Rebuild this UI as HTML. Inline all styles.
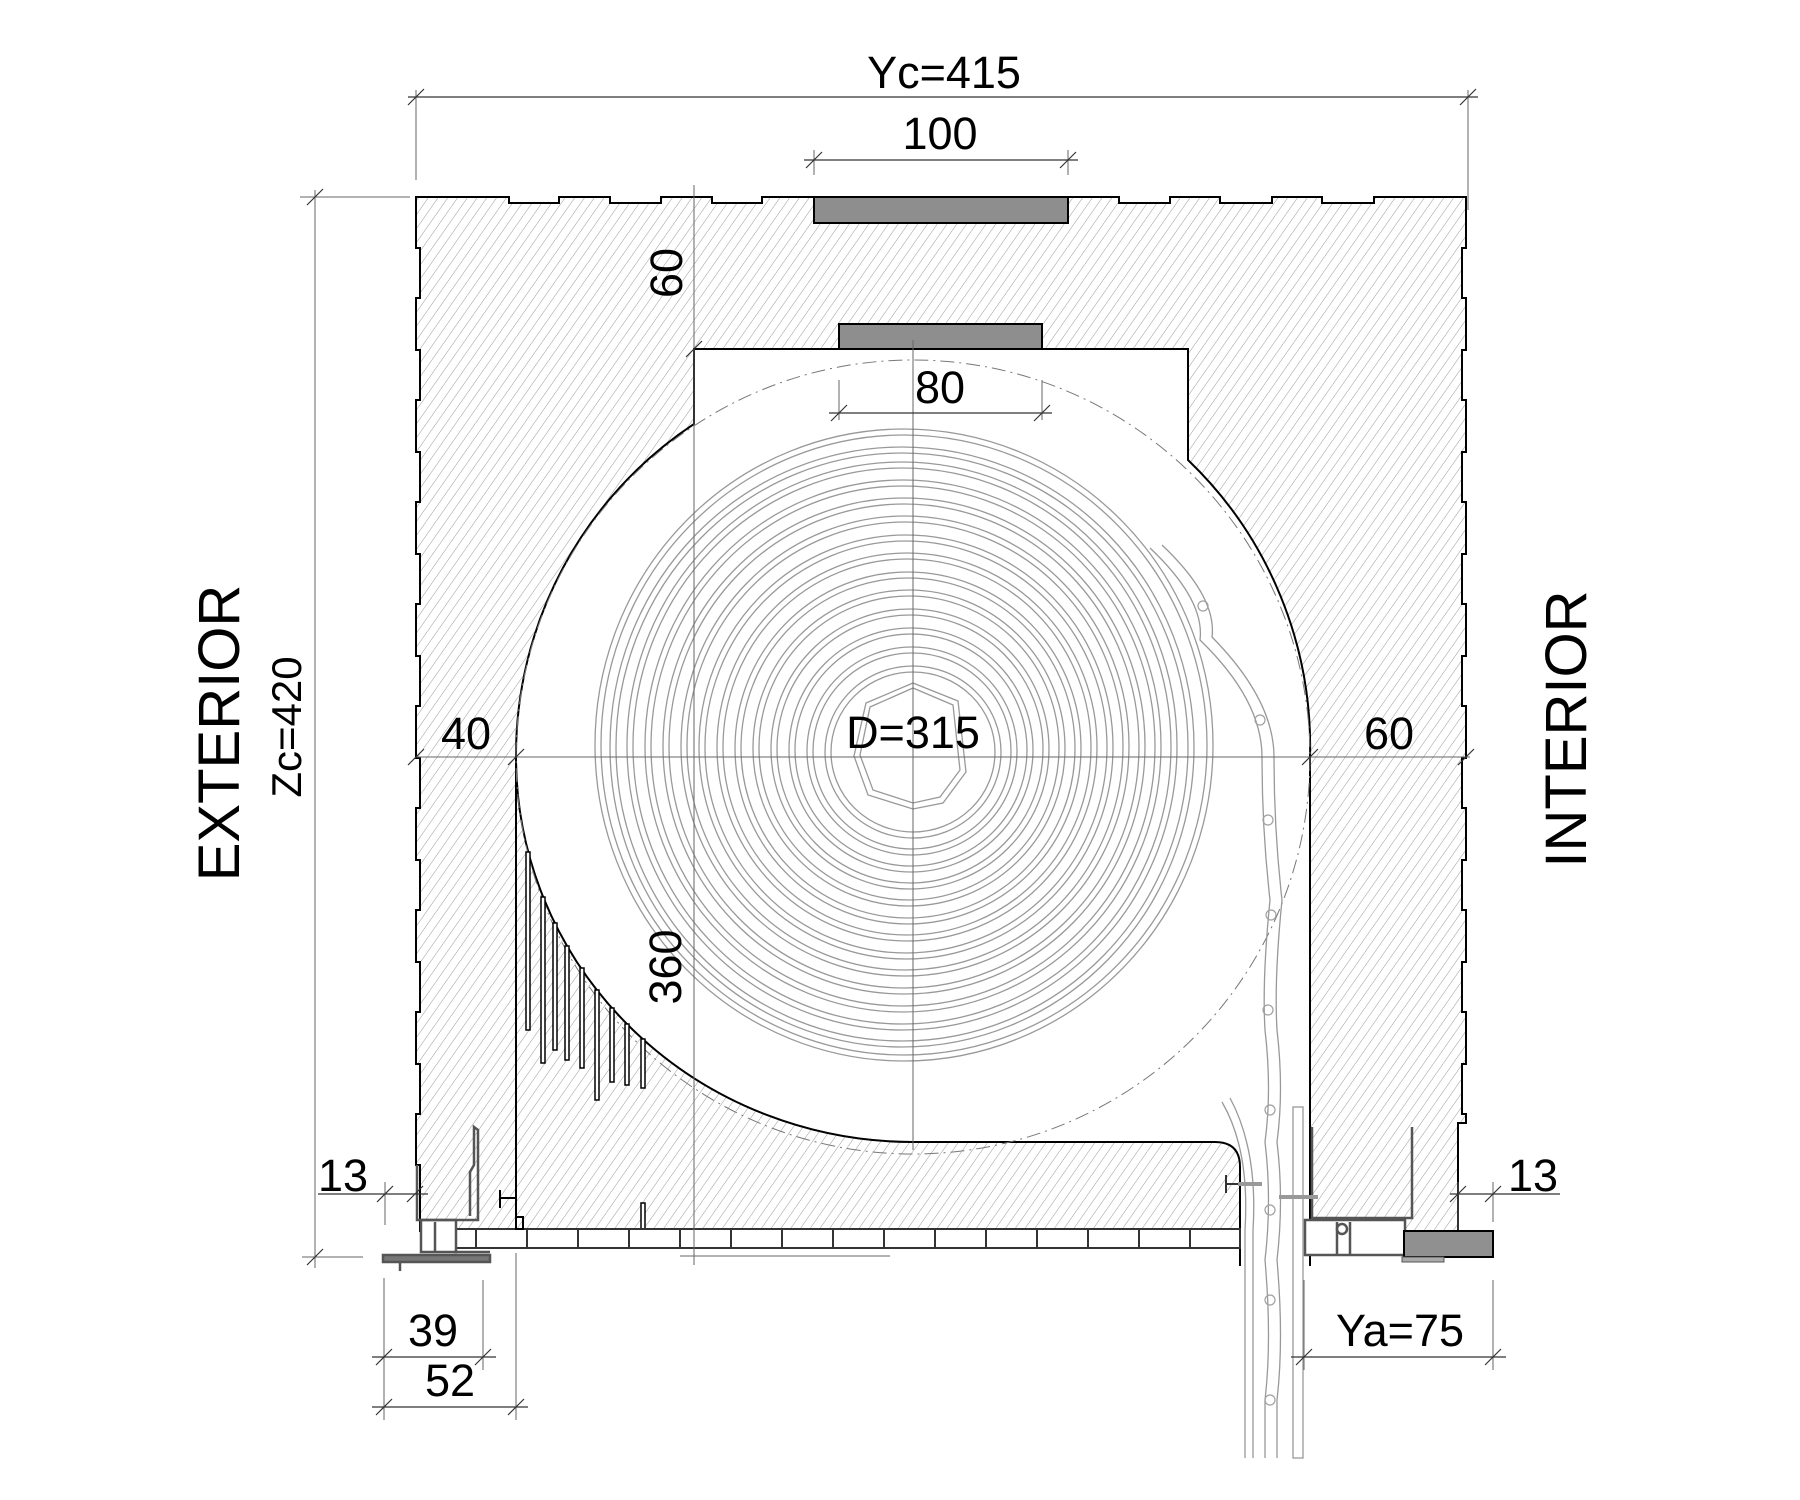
<!DOCTYPE html>
<html><head><meta charset="utf-8"><style>
html,body{margin:0;padding:0;background:#fff}
svg{display:block}
text{font-family:"Liberation Sans",Arial,sans-serif;fill:#000}
</style></head><body>
<svg width="1800" height="1500" viewBox="0 0 1800 1500" xmlns="http://www.w3.org/2000/svg">
<defs>
<pattern id="h" width="8" height="8" patternUnits="userSpaceOnUse" patternTransform="rotate(35)">
<rect width="8" height="8" fill="#fff"/>
<line x1="0" y1="0" x2="0" y2="8" stroke="#9a9a9a" stroke-width="1"/>
</pattern>
</defs>

<path d="M416,197 L509,197 L509,203 L559,203 L559,197 L610,197 L610,203 L661,203 L661,197 L712,197 L712,203 L762,203 L762,197 L1119,197 L1119,203 L1170,203 L1170,197 L1220,197 L1220,203 L1272,203 L1272,197 L1322,197 L1322,203 L1374,203 L1374,197 L1466,197
L1466,248 L1462,248 L1462,298 L1466,298 L1466,350 L1462,350 L1462,400 L1466,400 L1466,452 L1462,452 L1462,502 L1466,502 L1466,554 L1462,554 L1462,604 L1466,604 L1466,656 L1462,656 L1462,706 L1466,706 L1466,758 L1462,758 L1462,808 L1466,808 L1466,860 L1462,860 L1462,910 L1466,910 L1466,962 L1462,962 L1462,1012 L1466,1012 L1466,1064 L1462,1064 L1462,1114 L1466,1114 L1466,1123 L1458,1123 L1458,1231 L420,1231 L420,1165 L416,1165
L416,1114 L420,1114 L420,1064 L416,1064 L416,1012 L420,1012 L420,962 L416,962 L416,910 L420,910 L420,860 L416,860 L416,808 L420,808 L420,758 L416,758 L416,706 L420,706 L420,656 L416,656 L416,604 L420,604 L420,554 L416,554 L416,502 L420,502 L420,452 L416,452 L416,400 L420,400 L420,350 L416,350 L416,298 L420,298 L420,248 L416,248 Z" fill="url(#h)" stroke="#000" stroke-width="2"/>

<rect x="814" y="197" width="254" height="26" fill="#8e8e8e" stroke="#000" stroke-width="2"/>
<rect x="839" y="324" width="203" height="25" fill="#8e8e8e" stroke="#000" stroke-width="2"/>

<path d="M694,349 L1188,349 L1188,460 A397,397 0 0,1 1310,757 L1310,1265 L1240,1265 L1240,1167 Q1240,1142 1215,1142 L913,1142 A397,385 0 0,1 516,757 A397,397 0 0,1 694,424 Z" fill="#fff" stroke="#000" stroke-width="2"/>
<rect x="1241" y="1232" width="68" height="40" fill="#fff"/>
<line x1="516" y1="757" x2="516" y2="1231" stroke="#000" stroke-width="2"/>

<circle cx="913" cy="757" r="397" fill="none" stroke="#777" stroke-width="1" stroke-dasharray="14,5,2,5"/>

<g fill="#fff" stroke="#000" stroke-width="1.5">
<rect x="526" y="852" width="4" height="178"/>
<rect x="541" y="897" width="4" height="166"/>
<rect x="553" y="923" width="4" height="127"/>
<rect x="565" y="946" width="4" height="114"/>
<rect x="580" y="968" width="4" height="100"/>
<rect x="595" y="990" width="4" height="110"/>
<rect x="610" y="1008" width="4" height="74"/>
<rect x="625" y="1024" width="4" height="61"/>
<rect x="641" y="1039" width="4" height="49"/>
<rect x="641" y="1203" width="4" height="26"/>
</g>

<g fill="none" stroke="#999" stroke-width="1.3">
<ellipse cx="913" cy="752" rx="82" ry="80"/><ellipse cx="913" cy="752" rx="88" ry="86"/>
<ellipse cx="912" cy="751" rx="99" ry="98"/><ellipse cx="912" cy="751" rx="105" ry="104"/>
<ellipse cx="911" cy="750" rx="116" ry="116"/><ellipse cx="911" cy="750" rx="122" ry="122"/>
<ellipse cx="910" cy="749" rx="133" ry="134"/><ellipse cx="910" cy="749" rx="139" ry="140"/>
<ellipse cx="909" cy="748" rx="150" ry="152"/><ellipse cx="909" cy="748" rx="156" ry="158"/>
<ellipse cx="908" cy="748" rx="167" ry="170"/><ellipse cx="908" cy="748" rx="173" ry="176"/>
<ellipse cx="907" cy="747" rx="184" ry="188"/><ellipse cx="907" cy="747" rx="190" ry="194"/>
<ellipse cx="906" cy="747" rx="201" ry="206"/><ellipse cx="906" cy="747" rx="207" ry="212"/>
<ellipse cx="905" cy="746" rx="218" ry="224"/><ellipse cx="905" cy="746" rx="224" ry="230"/>
<ellipse cx="904" cy="746" rx="235" ry="242"/><ellipse cx="904" cy="746" rx="241" ry="248"/>
<ellipse cx="903" cy="746" rx="252" ry="260"/><ellipse cx="903" cy="746" rx="258" ry="266"/>
<ellipse cx="902" cy="746" rx="269" ry="278"/><ellipse cx="902" cy="746" rx="275" ry="284"/>
<ellipse cx="902" cy="747" rx="286" ry="294"/><ellipse cx="902" cy="747" rx="292" ry="300"/>
<ellipse cx="904" cy="745" rx="303" ry="310"/><ellipse cx="904" cy="745" rx="309" ry="316"/>
<polygon points="913,688 953,705 960,770 940,797 913,803 873,790 860,755 870,707"/>
<polyline points="913,683 958,701 966,772 943,803 913,809 868,795 854,756 866,703 913,683"/>
<path d="M1150,548 Q1205,600 1200,640 Q1262,700 1262,757 Q1262,830 1270,900 Q1262,980 1265,1030 Q1272,1090 1265,1142 Q1272,1200 1265,1260 Q1272,1340 1265,1400 L1265,1458"/>
<path d="M1162,545 Q1217,597 1212,637 Q1274,700 1274,757 Q1274,830 1282,900 Q1274,980 1277,1030 Q1284,1090 1277,1142 Q1284,1200 1277,1260 Q1284,1340 1277,1400 L1277,1458"/>
<path d="M1222,1102 Q1250,1150 1245,1230 L1245,1458"/>
<path d="M1230,1098 Q1258,1150 1253,1230 L1253,1458"/>
<rect x="1293" y="1107" width="10" height="351"/>
</g>
<g fill="none" stroke="#a0a0a0" stroke-width="1.2">
<circle cx="1203" cy="606" r="5"/><circle cx="1260" cy="720" r="5"/><circle cx="1268" cy="820" r="5"/><circle cx="1271" cy="915" r="5"/><circle cx="1268" cy="1010" r="5"/><circle cx="1270" cy="1110" r="5"/><circle cx="1270" cy="1210" r="5"/><circle cx="1270" cy="1300" r="5"/><circle cx="1270" cy="1400" r="5"/>
</g>

<g fill="#fff" stroke="#333" stroke-width="2">
<rect x="456" y="1229" width="784" height="19"/>
</g>
<g stroke="#333" stroke-width="2">
<line x1="476" y1="1229" x2="476" y2="1248"/><line x1="527" y1="1229" x2="527" y2="1248"/><line x1="578" y1="1229" x2="578" y2="1248"/><line x1="629" y1="1229" x2="629" y2="1248"/><line x1="680" y1="1229" x2="680" y2="1248"/><line x1="731" y1="1229" x2="731" y2="1248"/><line x1="782" y1="1229" x2="782" y2="1248"/><line x1="833" y1="1229" x2="833" y2="1248"/><line x1="884" y1="1229" x2="884" y2="1248"/><line x1="935" y1="1229" x2="935" y2="1248"/><line x1="986" y1="1229" x2="986" y2="1248"/><line x1="1037" y1="1229" x2="1037" y2="1248"/><line x1="1088" y1="1229" x2="1088" y2="1248"/><line x1="1139" y1="1229" x2="1139" y2="1248"/><line x1="1190" y1="1229" x2="1190" y2="1248"/>
</g>

<g fill="#fff" stroke="#555" stroke-width="2.5">
<rect x="421" y="1220" width="35" height="32"/>
<polyline points="417,1165 417,1220 478,1220 478,1130 474,1127 474,1165 470,1172 470,1216" fill="none"/>
<path d="M383,1255 L490,1255 L490,1262 L383,1262 Z" fill="#777"/>
<line x1="400" y1="1262" x2="400" y2="1271"/>
<line x1="435" y1="1222" x2="435" y2="1252"/>
<line x1="454" y1="1252" x2="490" y2="1252"/>
</g>
<g stroke="#000" stroke-width="2" fill="none">
<path d="M500,1190 L500,1208 M500,1198 L516,1198"/>
<rect x="516" y="1217" width="7" height="12"/>
</g>

<g fill="#fff" stroke="#555" stroke-width="2.5">
<rect x="1305" y="1220" width="100" height="35"/>
<polyline points="1312,1127 1312,1218 1412,1218 1412,1127" fill="none"/>
<line x1="1337" y1="1222" x2="1337" y2="1255"/>
<line x1="1350" y1="1222" x2="1350" y2="1255"/>
<circle cx="1342" cy="1229" r="5"/>
</g>
<rect x="1404" y="1231" width="89" height="26" fill="#909090" stroke="#000" stroke-width="2"/>
<rect x="1402" y="1257" width="42" height="5" fill="#aaa" stroke="#555" stroke-width="1"/>
<g stroke="#999" stroke-width="4">
<line x1="1238" y1="1184" x2="1262" y2="1184"/><line x1="1279" y1="1197" x2="1318" y2="1197"/>
</g>
<g stroke="#333" stroke-width="2" fill="none"><path d="M1226,1175 L1226,1193 M1226,1184 L1238,1184"/></g>

<g stroke="#666" stroke-width="1" fill="none">
<line x1="694" y1="185" x2="694" y2="1265"/>
<line x1="913" y1="340" x2="913" y2="1150"/>
<line x1="680" y1="1256" x2="890" y2="1256"/>
<line x1="416" y1="757" x2="1470" y2="757"/>
<line x1="416" y1="90" x2="416" y2="180"/><line x1="1468" y1="90" x2="1468" y2="210"/>
<line x1="814" y1="150" x2="814" y2="175"/><line x1="1068" y1="150" x2="1068" y2="175"/>
<line x1="839" y1="380" x2="839" y2="420"/><line x1="1042" y1="380" x2="1042" y2="420"/>
<line x1="315" y1="190" x2="315" y2="1268"/>
<line x1="300" y1="197" x2="410" y2="197"/>
<line x1="302" y1="1257" x2="363" y2="1257"/>
<line x1="384" y1="1278" x2="384" y2="1420"/><line x1="483" y1="1280" x2="483" y2="1370"/><line x1="516" y1="1253" x2="516" y2="1420"/>
<line x1="1304" y1="1280" x2="1304" y2="1370"/><line x1="1493" y1="1280" x2="1493" y2="1370"/>
<line x1="1458" y1="1182" x2="1458" y2="1230"/><line x1="1493" y1="1182" x2="1493" y2="1222"/>
<line x1="385" y1="1182" x2="385" y2="1225"/>
</g>
<g stroke="#333" stroke-width="1.2" fill="none">
<line x1="408" y1="97" x2="1478" y2="97"/>
<line x1="804" y1="160" x2="1078" y2="160"/>
<line x1="829" y1="413" x2="1052" y2="413"/>
<line x1="318" y1="1194" x2="428" y2="1194"/>
<line x1="1450" y1="1194" x2="1560" y2="1194"/>
<line x1="372" y1="1357" x2="496" y2="1357"/>
<line x1="372" y1="1407" x2="528" y2="1407"/>
<line x1="1291" y1="1357" x2="1506" y2="1357"/>
<path d="M408,105 L424,89 M1460,105 L1476,89 M806,168 L822,152 M1060,168 L1076,152 M831,421 L847,405 M1034,421 L1050,405 M408,765 L424,749 M508,765 L524,749 M1302,765 L1318,749 M1458,765 L1474,749 M307,205 L323,189 M307,1265 L323,1249 M686,357 L702,341 M377,1202 L393,1186 M407,1202 L423,1186 M1450,1202 L1466,1186 M1485,1202 L1501,1186 M376,1365 L392,1349 M475,1365 L491,1349 M376,1415 L392,1399 M508,1415 L524,1399 M1296,1365 L1312,1349 M1485,1365 L1501,1349"/>
</g>

<g font-size="45" text-anchor="middle">
<text x="944" y="88">Yc=415</text>
<text x="940" y="149">100</text>
<text x="940" y="403">80</text>
<text x="466" y="749">40</text>
<text x="913" y="748">D=315</text>
<text x="1389" y="749">60</text>
<text x="343" y="1191">13</text>
<text x="1533" y="1191">13</text>
<text x="433" y="1346">39</text>
<text x="450" y="1396">52</text>
<text x="1400" y="1346">Ya=75</text>
<text transform="translate(682,273) rotate(-90)">60</text>
<text transform="translate(681,967) rotate(-90)">360</text>
<text transform="translate(301,727) rotate(-90)" font-size="42">Zc=420</text>
</g>
<g font-size="58" text-anchor="middle">
<text transform="translate(239,733) rotate(-90)">EXTERIOR</text>
<text transform="translate(1586,729) rotate(-90)">INTERIOR</text>
</g>
</svg>
</body></html>
